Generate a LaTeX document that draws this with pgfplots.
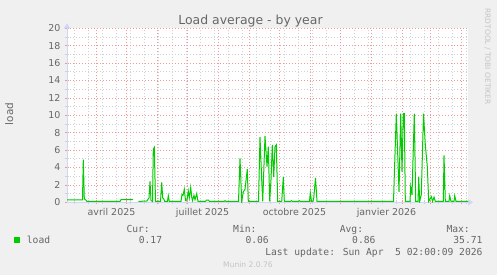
\documentclass[border=0pt]{standalone}
\usepackage{pgfplots}
\pgfplotsset{compat=1.18}
\usepackage{fontspec}
\setmainfont{DejaVu Sans}
\newfontfamily\mono{DejaVu Sans Mono}
\usetikzlibrary{arrows.meta}
\definecolor{bg}{HTML}{F0F0F0}
\definecolor{fontc}{HTML}{666666}
\definecolor{mgrid}{HTML}{EE9A9A}
\definecolor{mingrid}{HTML}{D0D0D0}
\definecolor{axisc}{HTML}{CFD6F8}
\definecolor{loadg}{HTML}{00CC00}
\definecolor{faint}{HTML}{C4C4C4}
\begin{document}
\begin{tikzpicture}[x=1bp,y=1bp]
\fill[bg] (0,0) rectangle (497,275);
\useasboundingbox (0,0) rectangle (497,275);
\begin{axis}[
  at={(67bp,72.7bp)}, anchor=south west, scale only axis,
  width=401bp, height=174bp,
  xmin=1.5, xmax=402.5, ymin=0, ymax=20,
  axis background/.style={fill=white},
  axis x line=bottom, axis y line=left,
  axis line style={draw=axisc, line width=1bp},
  every outer x axis line/.append style={-{Triangle[length=5bp,width=6bp]}, shorten >=-5bp},
  every outer y axis line/.append style={-{Triangle[length=5bp,width=6bp]}, shorten >=-5bp},
  xtick={31,61,92,122,153,184,214,245,275,306,337,365,396},
  xticklabels={},
  minor xtick={9,23,...,401},
  extra x ticks={46,137,229,321},
  extra x tick labels={avril 2025, juillet 2025, octobre 2025, janvier 2026},
  extra x tick style={grid=none, major tick length=0pt},
  ytick={0,2,...,20}, minor ytick={1,3,...,19},
  grid=both,
  major grid style={draw=mgrid, dash pattern=on 1bp off 2bp, line width=0.7bp},
  minor grid style={draw=mingrid, dash pattern=on 1bp off 2bp, line width=0.7bp},
  tick align=center, major tick length=4bp, minor tick length=4bp,
  every major tick/.append style={draw=mgrid, line width=0.7bp},
  every minor tick/.append style={draw=mingrid, line width=0.7bp},
  tick label style={font=\fontsize{9.5}{10}\selectfont, text=fontc},
  yticklabel style={anchor=east, xshift=-1bp},
  xticklabel style={anchor=north, yshift=-2.5bp},
  /pgf/number format/assume math mode=true,
  unbounded coords=jump,
]
\addplot[loadg, line width=1bp] coordinates {
(1.5,0.28) (17,0.28) (17.8,4.9) (18.8,0.4) (20,0.3) (21.5,0.1) (54.5,0.1) (55.5,0.3) (67.5,0.3) (70,nan)
(73,0.1) (81.5,0.15) (82.8,0.4) (83.5,0.5) (84.5,2.4) (85.5,0.2) (87,0.1) (87.8,6.1) (88.8,6.3) (90,0.1)
(95,0.1) (96.2,2.3) (97.2,0.5) (98.2,0.4) (99.2,0.1) (102,0.1) (102.8,0.75) (103.8,0.1) (115.5,0.1)
(116.5,0.9) (117.5,0.8) (118.8,1.5) (120,0.2) (121.5,0.3) (122.8,1.3) (123.8,0.5) (125.2,1.7) (126.2,0.6)
(127,0.2) (128.5,0.8) (129.5,0.3) (131.2,1.0) (132.5,0.1) (140,0.1) (141,0.25) (143,0.25) (144,0.1)
(158.5,0.1) (159.5,0.18) (160.5,0.1)
(173,0.1) (174.5,5.05) (176.2,0.1) (177.8,1.2) (179.5,1.5) (181.8,3.8) (182.8,0.1) (193,0.1)
(194.5,7.5) (196.2,2.6) (197.2,0.1) (199.5,7.6) (201.5,4.1) (202.8,6.4) (204.2,0.1) (205.5,2.6)
(206.8,6.6) (208.2,2.9) (209.5,6.4) (210.8,6.6) (212.2,0.1) (216.2,0.1) (217.8,2.9) (218.8,0.1)
(225,0.1) (226,0.2) (227,0.1) (233,0.1) (234,0.18) (235,0.1)
(244,0.1) (244.8,1.1) (246,0.1) (247.5,0.1) (248.2,0.45) (250,2.8) (251.5,0.1)
(328,0.1) (328.5,2) (330.8,10.2) (333.5,1.2) (335.2,10.2) (336.5,3.5) (337.8,10.2) (338.8,10.2)
(339.8,0.1) (344.5,0.1) (345.2,1.8) (346.5,0.85) (348.8,10.2) (350.2,0.1) (352.5,0.1) (353.2,2.9)
(354.2,0.1) (355.8,0.9) (358,10.2) (359.8,6.6) (361.8,4.1) (363.2,0.1) (365.8,0.65) (367,0.1)
(368.5,0.6) (369.8,0.1) (377.8,0.1) (378.5,5.4) (379.8,0.1) (383.5,0.1) (384.2,0.75) (385.5,0.1)
(388.5,0.1) (389.2,0.75) (390.5,0.1) (402.5,0.1)
};
\end{axis}
\node[anchor=base, font=\fontsize{12.5}{13}\selectfont, text=fontc] at (250.5,250.7) {Load average - by year};
\node[anchor=base, rotate=90, font=\fontsize{10.5}{11}\selectfont, text=fontc] at (13,161) {load};
\node[anchor=base west, rotate=-90, font=\fontsize{7.5}{8}\selectfont, text=faint] at (485,270) {RRDTOOL / TOBI OETIKER};
\begin{scope}[every node/.style={font=\mono\fontsize{9.7}{10}\selectfont, text=fontc, inner sep=0pt}]
\node[anchor=base east] at (150,43) {Cur:};
\node[anchor=base east] at (256.7,43) {Min:};
\node[anchor=base east] at (363.3,43) {Avg:};
\node[anchor=base east] at (470,43) {Max:};
\node[anchor=base west] at (26.7,32) {load};
\node[anchor=base east] at (162.3,32) {0.17};
\node[anchor=base east] at (269,32) {0.06};
\node[anchor=base east] at (375.7,32) {0.86};
\node[anchor=base east] at (482.7,32) {35.71};
\node[anchor=base east] at (482.7,20) {Last update: Sun Apr\ \ 5 02:00:09 2026};
\end{scope}
\fill[loadg] (14,32) rectangle (20,38);
\node[anchor=base, font=\fontsize{7.6}{8}\selectfont, text=faint, inner sep=0pt] at (248,8) {Munin 2.0.76};
\end{tikzpicture}
\end{document}
